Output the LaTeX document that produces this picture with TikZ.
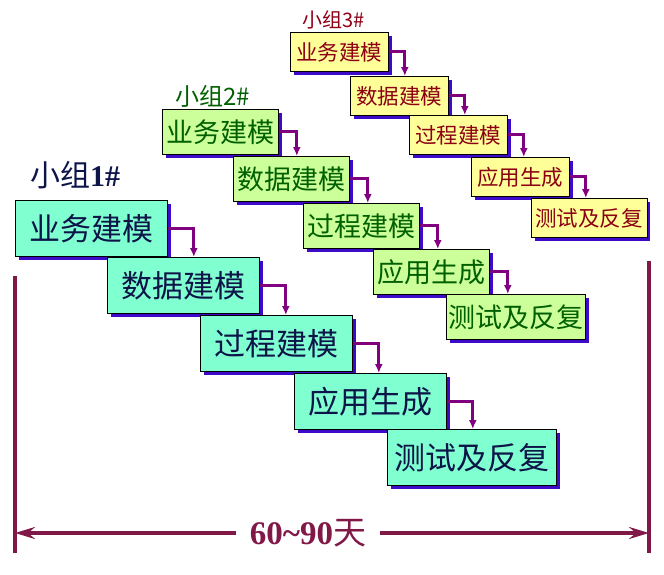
\documentclass[tikz,border=0pt]{standalone}
\usepackage{fontspec}
\setmainfont{Liberation Serif}
\newfontfamily\cjk{Noto Sans CJK SC}
\usetikzlibrary{arrows.meta,shadows}

\definecolor{aquafill}{RGB}{128,255,208}
\definecolor{greenfill}{RGB}{204,255,153}
\definecolor{yellowfill}{RGB}{255,255,153}
\definecolor{shadeblue}{RGB}{60,10,200}
\definecolor{flowpurple}{RGB}{128,0,128}
\definecolor{barmaroon}{RGB}{128,24,72}
\definecolor{navytext}{RGB}{12,20,72}
\definecolor{greentext}{RGB}{0,96,0}
\definecolor{redtext}{RGB}{140,0,20}

\tikzset{
    stage/.style={draw=black, line width=0.8pt, anchor=north west, inner ysep=0pt,
        drop shadow={fill=shadeblue, opacity=1, shadow xshift=3.5pt, shadow yshift=-3.5pt}},
    teamone/.style={stage, fill=aquafill, text=navytext, minimum height=56pt, minimum width=152pt,
        inner xsep=7pt, font=\cjk\fontsize{31}{31}\selectfont},
    teamtwo/.style={stage, fill=greenfill, text=greentext, minimum height=45pt, minimum width=116pt,
        inner xsep=2pt, font=\cjk\fontsize{27}{27}\selectfont},
    teamthree/.style={stage, fill=yellowfill, text=redtext, minimum height=39pt, minimum width=98pt,
        inner xsep=4pt, font=\cjk\fontsize{21.5}{21.5}\selectfont},
    teamlabel/.style={anchor=west, inner sep=0pt},
    flow/.style={draw=flowpurple, line width=3pt, -{Latex[length=9pt,width=8pt]}},
    bar/.style={draw=barmaroon, line width=4pt},
    span/.style={draw=barmaroon, line width=4pt, -{Stealth[length=20pt,width=12pt,inset=7pt]}},
}

\begin{document}
\begin{tikzpicture}[x=1pt, y=-1pt]
    \useasboundingbox (0,0) rectangle (664,574);

    \node[teamlabel, text=navytext] (lab1) at (30,175)
        {\fontsize{30}{30}\selectfont{\cjk 小组}\textbf{1\#}};
    \node[teamlabel, text=greentext] (lab2) at (175,96)
        {\cjk\fontsize{24}{24}\selectfont 小组2\#};
    \node[teamlabel, text=redtext] (lab3) at (302,20)
        {\cjk\fontsize{20}{20}\selectfont 小组3\#};

    \node[teamthree] (c1) at (290,32) {业务建模};
    \node[teamthree] (c2) at (350,76) {数据建模};
    \node[teamthree] (c3) at (409,115) {过程建模};
    \node[teamthree] (c4) at (471,157) {应用生成};
    \node[teamthree] (c5) at (531,198) {测试及反复};

    \node[teamtwo] (b1) at (162,109) {业务建模};
    \node[teamtwo] (b2) at (233,156) {数据建模};
    \node[teamtwo] (b3) at (303,203) {过程建模};
    \node[teamtwo] (b4) at (373,249) {应用生成};
    \node[teamtwo] (b5) at (446,294) {测试及反复};

    \node[teamone] (a1) at (15,200) {业务建模};
    \node[teamone] (a2) at (107,257) {数据建模};
    \node[teamone] (a3) at (200,315) {过程建模};
    \node[teamone] (a4) at (294,373) {应用生成};
    \node[teamone] (a5) at (387,429) {测试及反复};

    \foreach \i/\j in {1/2,2/3,3/4,4/5} {
        \draw[flow] (a\i.east) -| ([xshift=26pt]a\i.east |- a\j.north);
        \draw[flow] (b\i.east) -| ([xshift=18pt]b\i.east |- b\j.north);
        \draw[flow] (c\i.east) -| ([xshift=16pt]c\i.east |- c\j.north);
    }

    \coordinate (lt) at (15,276);
    \coordinate (lb) at (15,553);
    \coordinate (rt) at (649,261);
    \coordinate (rb) at (649,553);
    \draw[bar] (lt) -- (lb);
    \draw[bar] (rt) -- (rb);

    \node[text=barmaroon, inner xsep=14pt, inner ysep=0pt] (days) at (308,533)
        {\fontsize{33}{33}\selectfont\textbf{60\textasciitilde90}{\cjk 天}};
    \draw[span] (days) -- (lt |- days);
    \draw[span] (days) -- (rt |- days);
\end{tikzpicture}
\end{document}
